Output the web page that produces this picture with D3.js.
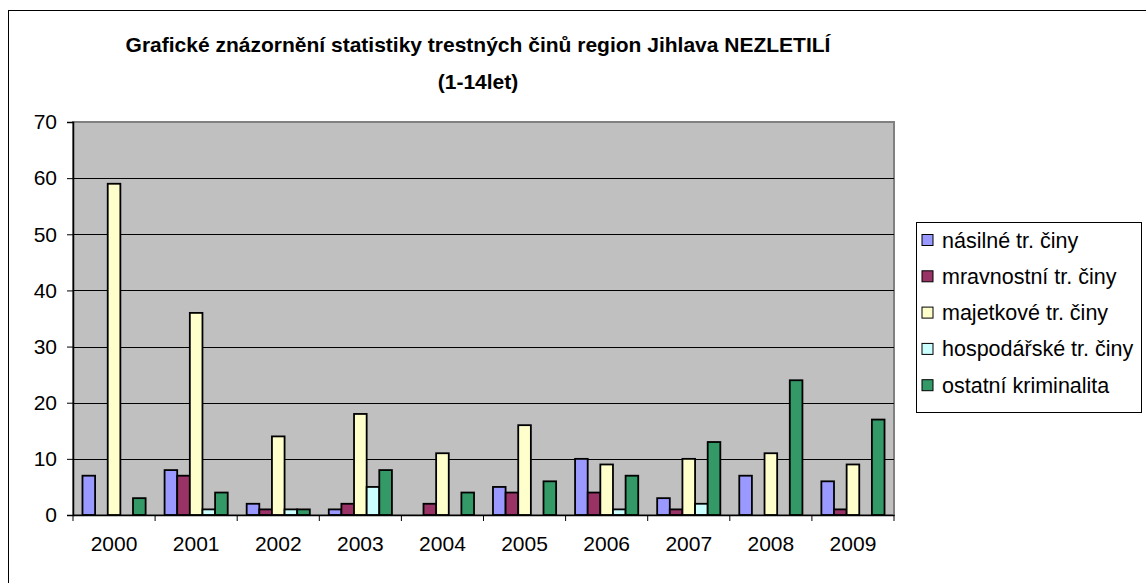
<!DOCTYPE html>
<html>
<head>
<meta charset="utf-8">
<script src="https://cdn.jsdelivr.net/npm/d3@7"></script>
<style>
  body { margin: 0; background: #fff; }
  svg text { font-family: "Liberation Sans", Arial, sans-serif; fill: #000; }
</style>
</head>
<body>
<div id="chart"></div>
<script>
// data
let years = ['2000', '2001', '2002', '2003', '2004', '2005', '2006', '2007', '2008', '2009'];
let seriesNames = ['násilné tr. činy', 'mravnostní tr. činy', 'majetkové tr. činy', 'hospodářské tr. činy', 'ostatní kriminalita'];
let nasilne = [7, 8, 2, 1, 0, 5, 10, 3, 7, 6];
let mravnostni = [0, 7, 1, 2, 2, 4, 4, 1, 0, 1];
let majetkove = [59, 36, 14, 18, 11, 16, 9, 10, 11, 9];
let hospodarske = [0, 1, 1, 5, 0, 0, 1, 2, 0, 0];
let ostatni = [3, 4, 1, 8, 4, 6, 7, 13, 24, 17];
let yTicks = [0, 10, 20, 30, 40, 50, 60, 70];
let colors = ['#9999FF', '#993366', '#FFFFCC', '#CCFFFF', '#339966'];

let series = [nasilne, mravnostni, majetkove, hospodarske, ostatni];

let width = 1146, height = 583;
let plot = {left: 73, right: 894, top: 122, bottom: 515};

let svg = d3.select('#chart').append('svg')
    .attr('width', width)
    .attr('height', height);

// outer chart frame (right and bottom run off the picture)
svg.append('rect')
    .attr('x', 8.5).attr('y', 10.5)
    .attr('width', 1160).attr('height', 600)
    .attr('fill', '#fff')
    .attr('stroke', '#000')
    .attr('stroke-width', 1);

// title
let title = svg.append('text')
    .attr('text-anchor', 'middle')
    .attr('font-weight', 'bold')
    .attr('font-size', 21);
title.append('tspan').attr('x', 478).attr('y', 52)
    .text('Grafické znázornění statistiky trestných činů region Jihlava NEZLETILÍ');
title.append('tspan').attr('x', 478).attr('y', 89)
    .text('(1-14let)');

let x0 = d3.scaleBand()
    .domain(years)
    .range([plot.left, plot.right])
    .paddingInner(0)
    .paddingOuter(0);

let y = d3.scaleLinear()
    .domain([0, 70])
    .range([plot.bottom, plot.top]);

// plot background
svg.append('rect')
    .attr('x', plot.left).attr('y', plot.top)
    .attr('width', plot.right - plot.left)
    .attr('height', plot.bottom - plot.top)
    .attr('fill', '#C0C0C0')
    .attr('stroke', '#808080')
    .attr('stroke-width', 2);

// gridlines
svg.append('g')
    .selectAll('line')
    .data(yTicks.filter(d => d > 0 && d < 70))
    .enter().append('line')
    .attr('x1', plot.left).attr('x2', plot.right)
    .attr('y1', d => Math.round(y(d)) + 0.5)
    .attr('y2', d => Math.round(y(d)) + 0.5)
    .attr('stroke', '#000')
    .attr('stroke-width', 1);

// bars, Excel style: gap of 150% of one bar width between clusters
let x1 = d3.scaleBand()
    .domain(d3.range(series.length))
    .range([0, x0.bandwidth()])
    .paddingInner(0)
    .paddingOuter(0.75);

svg.append('g')
    .selectAll('g')
    .data(years)
    .enter().append('g')
    .attr('transform', d => 'translate(' + x0(d) + ',0)')
    .selectAll('rect')
    .data((d, i) => series.map((s, j) => ({s: j, v: s[i]})))
    .enter().append('rect')
    .filter(d => d.v > 0)
    .attr('x', d => x1(d.s))
    .attr('y', d => y(d.v))
    .attr('width', x1.bandwidth())
    .attr('height', d => y(0) - y(d.v))
    .attr('fill', d => colors[d.s])
    .attr('stroke', '#000')
    .attr('stroke-width', 1.8);

// y axis
let yAxis = svg.append('g')
    .attr('transform', 'translate(' + plot.left + ',0)')
    .call(d3.axisLeft(y).tickValues(yTicks).tickSize(6).tickPadding(10).tickFormat(d3.format('d')));
yAxis.select('.domain').attr('stroke', '#000').attr('stroke-width', 1.5);
yAxis.selectAll('.tick line').attr('stroke', '#000');
yAxis.selectAll('text').attr('font-size', 21).attr('font-family', '"Liberation Sans", Arial, sans-serif');

// x axis
let xAxis = svg.append('g')
    .attr('transform', 'translate(0,' + plot.bottom + ')')
    .call(d3.axisBottom(x0).tickSize(0).tickPadding(21));
xAxis.select('.domain').attr('stroke', '#000').attr('stroke-width', 1.5);
xAxis.selectAll('text').attr('font-size', 21).attr('font-family', '"Liberation Sans", Arial, sans-serif');
xAxis.append('g')
    .selectAll('line')
    .data(d3.range(years.length + 1))
    .enter().append('line')
    .attr('x1', i => plot.left + i * x0.step())
    .attr('x2', i => plot.left + i * x0.step())
    .attr('y1', 0).attr('y2', 6)
    .attr('stroke', '#000');

// legend
let legend = svg.append('g').attr('transform', 'translate(916,222)');
legend.append('rect')
    .attr('x', 0.5).attr('y', 0.5)
    .attr('width', 225).attr('height', 190)
    .attr('fill', '#fff')
    .attr('stroke', '#000');
let items = legend.selectAll('g.item')
    .data(seriesNames)
    .enter().append('g')
    .attr('class', 'item')
    .attr('transform', (d, i) => 'translate(0,' + (18 + i * 36.3) + ')');
items.append('rect')
    .attr('x', 6).attr('y', -5.5)
    .attr('width', 11).attr('height', 11)
    .attr('fill', (d, i) => colors[i])
    .attr('stroke', '#000')
    .attr('stroke-width', 1);
items.append('text')
    .attr('x', 26).attr('y', 7.5)
    .attr('font-size', 21.5)
    .text(d => d);
</script>
</body>
</html>
